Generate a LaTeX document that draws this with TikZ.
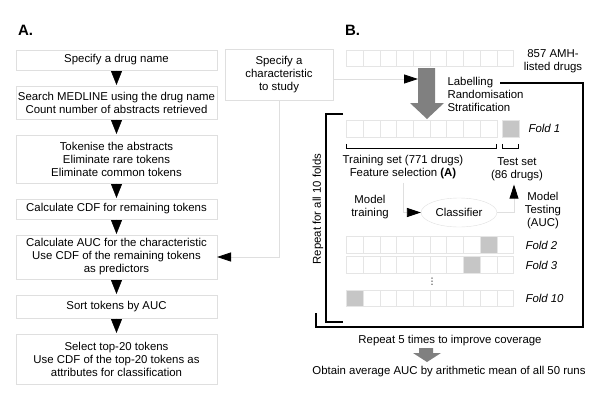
\documentclass[tikz,border=0pt]{standalone}
\usepackage{fontspec}
\setmainfont{Liberation Sans}
\newfontfamily\symfont{DejaVu Sans}
\usepackage{tikz}
\usetikzlibrary{arrows.meta,positioning,shapes.geometric}
\newcommand{\figfont}{\fontsize{11.4}{13}\selectfont}

\begin{document}
\begin{tikzpicture}[
    x=1pt, y=-1pt,
    node distance = 16pt,
    every node/.style = {font=\figfont},
    title/.style = {font=\fontsize{15}{18}\selectfont\bfseries},
    box/.style = {
        rectangle,
        draw=gray!25,
        align=center,
        minimum width=201pt,
        inner sep=2pt,
        outer sep=0pt
    },
    cell/.style = {
        rectangle,
        draw=gray!20,
        minimum width=16.67pt,
        minimum height=16.67pt,
        inner sep=0pt,
        outer sep=0pt
    },
    hit/.style = {cell, fill=gray!45},
    fold/.style = {anchor=west, font=\figfont\itshape},
    flow/.style = {
        -{Triangle[length=14pt,width=11pt]},
        shorten <=0.5pt,
        shorten >=1pt
    },
    feed/.style = {
        draw=gray!25,
        line width=0.8pt,
        -{Triangle[length=14pt,width=9pt,color=black,fill=black]}
    },
    bracket/.style = {line width=1.3pt}
]
\useasboundingbox (0,0) rectangle (600,400);

\node[title] (ta) at (25.5,30) {A.};
\node[title] (tb) at (352.5,30) {B.};

\node[box, minimum height=20pt, anchor=north] (drug) at (116.5,50) {Specify a drug name};
\node[box, minimum height=33pt, below=of drug] (search) {Search MEDLINE using the drug name\\Count number of abstracts retrieved};
\node[box, minimum height=48pt, below=of search] (tokens) {Tokenise the abstracts\\Eliminate rare tokens\\Eliminate common tokens};
\node[box, minimum height=20pt, below=of tokens] (cdf) {Calculate CDF for remaining tokens};
\node[box, minimum height=44pt, below=of cdf] (calcauc) {Calculate AUC for the characteristic\\Use CDF of the remaining tokens\\as predictors};
\node[box, minimum height=23pt, below=of calcauc] (sortauc) {Sort tokens by AUC};
\node[box, minimum height=50pt, below=of sortauc] (top20) {Select top-20 tokens\\Use CDF of the top-20 tokens as\\attributes for classification};

\draw[flow] (drug) -- (search);
\draw[flow] (search) -- (tokens);
\draw[flow] (tokens) -- (cdf);
\draw[flow] (cdf) -- (calcauc);
\draw[flow] (calcauc) -- (sortauc);
\draw[flow] (sortauc) -- (top20);

\node[box, minimum width=108pt, minimum height=51pt] (charbox) at (279,74.5) {Specify a\\characteristic\\to study};
\draw[feed] (charbox.south) |- (calcauc.east);

\foreach \i in {0,...,9}
  \node[cell] (all\i) at (355+16.67*\i,58.3) {};
\node[align=center] (drugs) at (553,61) {857 AMH-\\listed drugs};

\fill[gray] (418,68) -- (435,68) -- (435,103) -- (444,103) -- (427,119) -- (410,103) -- (418,103) -- cycle;
\coordinate (splitin) at (418,79);
\draw[feed] (charbox.east |- splitin) -- (splitin);
\node[align=left, anchor=west] (steps) at (444,94) {Labelling\\Randomisation\\Stratification};

\foreach \i in {0,...,8}
  \node[cell] (fa\i) at (355+16.67*\i,128.5) {};
\node[hit] (fa9) at (510.5,128.5) {};
\node[fold] (f1) at (525,128.5) {Fold 1};

\foreach \row/\y/\g in {fb/245/8, fc/265/7, fd/298.3/0} {
  \foreach \i in {0,...,9}
    \node[cell] (\row\i) at (355+16.67*\i,\y) {};
  \node[hit] (\row-hit) at (\row\g) {};
}
\node[fold] (f2) at (522,245) {Fold 2};
\node[fold] (f3) at (522,265) {Fold 3};
\node[fold] (f10) at (522,298.3) {Fold 10};
\node[font=\symfont\fontsize{9}{10}\selectfont] (dots) at (432,282) {⋮};

\draw[bracket] ([yshift=-7pt]fa0.south west) -- ++(0,-5pt) -| ([yshift=-7pt]fa8.south east);
\draw[bracket] ([yshift=-7pt]fa9.south west) -- ++(0,-5pt) -| ([yshift=-7pt]fa9.south east);

\node[align=center] (trainlbl) at (403,167.5) {Training set (771 drugs)\\Feature selection \textbf{(A)}};
\node[align=center] (testlbl) at (517,169.5) {Test set\\(86 drugs)};
\node[ellipse, draw=gray!25, minimum width=68pt, minimum height=29pt] (clf) at (459,212.5) {Classifier};
\node[align=center] (training) at (370,207.5) {Model\\training};
\node[align=center] (testing) at (543,211) {Model\\Testing\\(AUC)};

\draw[feed] (trainlbl.south) |- (clf.west);
\draw[feed] (clf.east) -| ([xshift=-3pt]testlbl.south);

\draw[bracket] (343,114) -- (326,114) -- (326,322) -- (343,322);
\draw[bracket] (500,83) -- (583,83) -- (583,327) -- (316,327) -- (316,313);
\node[rotate=90] (rep10) at (318,209) {Repeat for all 10 folds};

\node (rep5) at (450,341) {Repeat 5 times to improve coverage};
\fill[gray] (419,348) -- (433,348) -- (433,353) -- (441,353) -- (427,362) -- (413,353) -- (419,353) -- cycle;
\node (mean) at (449,372) {Obtain average AUC by arithmetic mean of all 50 runs};

\end{tikzpicture}
\end{document}
